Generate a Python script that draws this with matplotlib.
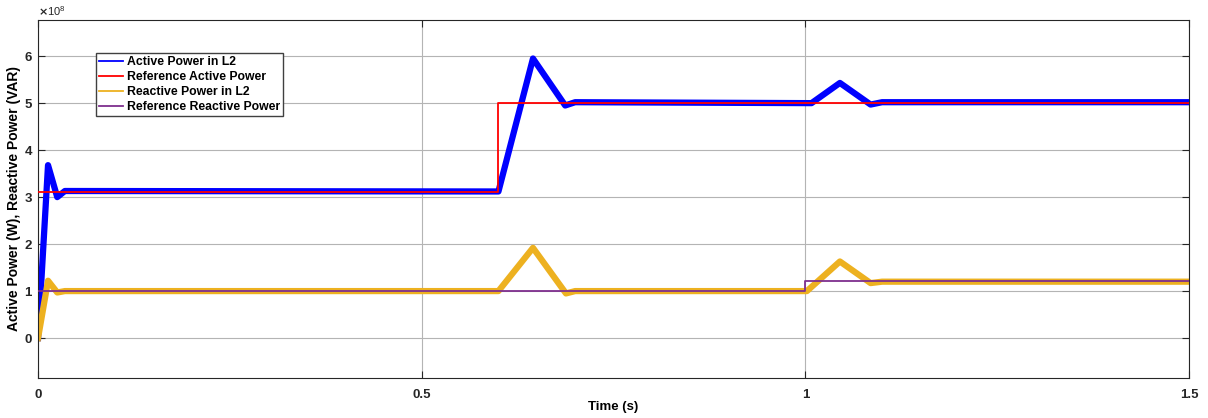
import matplotlib
matplotlib.use('Agg')
import matplotlib.pyplot as plt

plt.rcParams['font.family'] = ['Liberation Sans', 'DejaVu Sans']
plt.rcParams['font.weight'] = 'bold'

# key points (time in s, power in W / VAR)
p_t = [0, 0.013, 0.025, 0.035, 0.6, 0.645, 0.687, 0.70, 1.008, 1.045, 1.085, 1.10, 1.5]
p_val = [0, 3.68e8, 3.0e8, 3.13e8, 3.12e8, 5.95e8, 4.95e8, 5.02e8, 5.0e8, 5.43e8, 4.97e8, 5.02e8, 5.02e8]

q_t = [0, 0.013, 0.025, 0.035, 0.6, 0.645, 0.688, 0.70, 1.002, 1.045, 1.085, 1.10, 1.5]
q_val = [0, 1.22e8, 0.97e8, 1.0e8, 1.0e8, 1.92e8, 0.95e8, 1.0e8, 1.0e8, 1.63e8, 1.17e8, 1.2e8, 1.2e8]

p_ref_t = [0, 0.6, 0.6, 1.5]
p_ref_val = [3.1e8, 3.1e8, 5.0e8, 5.0e8]

q_ref_t = [0, 1.0, 1.0, 1.5]
q_ref_val = [1.0e8, 1.0e8, 1.21e8, 1.21e8]

fig = plt.figure(figsize=(12.08, 4.18), dpi=100)
ax = fig.add_axes([0.0315, 0.0957, 0.9528, 0.8565])

ax.plot(p_t, p_val, color='#0000ff', lw=4.5, label='Active Power in L2', zorder=2)
ax.plot(p_ref_t, p_ref_val, color='#ff0000', lw=1.3, label='Reference Active Power', zorder=4)
ax.plot(q_t, q_val, color='#edb120', lw=4.5, label='Reactive Power in L2', zorder=2)
ax.plot(q_ref_t, q_ref_val, color='#7e2f8e', lw=1.3, label='Reference Reactive Power', zorder=4)

ax.set_xlim(0, 1.5)
ax.set_ylim(-0.85e8, 6.77e8)
ax.set_xticks([0, 0.5, 1, 1.5])
ax.set_xticklabels(['0', '0.5', '1', '1.5'])
ax.set_yticks([0, 1e8, 2e8, 3e8, 4e8, 5e8, 6e8])
ax.ticklabel_format(axis='y', style='sci', scilimits=(8, 8), useMathText=True)
ax.yaxis.get_offset_text().set_fontsize(8)
ax.yaxis.get_offset_text().set_fontweight('normal')

ax.tick_params(direction='in', top=True, right=True, labelsize=9.5, length=5, colors='#262626')
ax.tick_params(axis='x', pad=8)
ax.grid(True, color='#b4b4b4', lw=0.8)
for s in ax.spines.values():
    s.set_color('#262626')
    s.set_linewidth(0.8)

ax.set_xlabel('Time (s)', fontsize=9.5, fontweight='bold', labelpad=0)
ax.set_ylabel('Active Power (W), Reactive Power (VAR)', fontsize=10, fontweight='bold', labelpad=2)

leg = ax.legend(loc='upper left', bbox_to_anchor=(0.045, 0.925),
                prop={'weight': 'bold', 'size': 8.8}, fancybox=False, framealpha=1,
                edgecolor='#404040', handlelength=2.0, borderpad=0.25, labelspacing=0.25,
                handletextpad=0.3)
for line in leg.get_lines():
    line.set_linewidth(1.3)

fig.savefig('out.png', dpi=100)
